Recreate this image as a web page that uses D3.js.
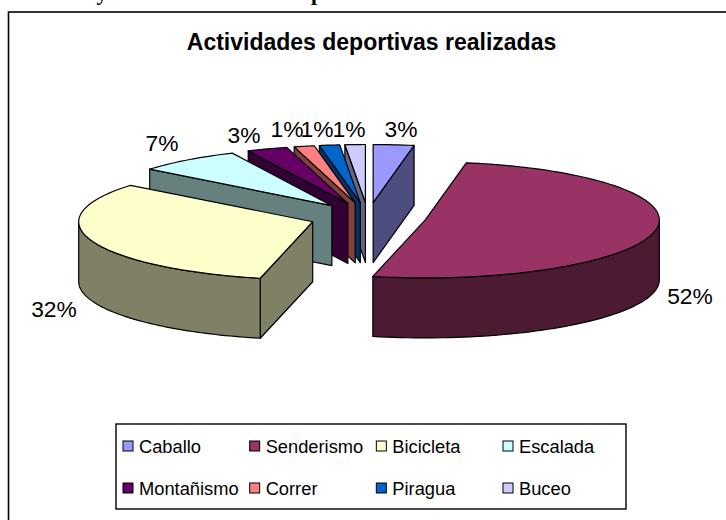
<!DOCTYPE html>
<html><head><meta charset="utf-8">
<script src="https://cdn.jsdelivr.net/npm/d3@7"></script>
<style>html,body{margin:0;padding:0;background:#fff}svg{display:block}text{font-family:"Liberation Sans",Arial,sans-serif}</style>
</head><body><svg id="c" width="726" height="520"></svg>
<script>
const categories = ["Caballo","Senderismo","Bicicleta","Escalada","Montañismo","Correr","Piragua","Buceo"];
const shares = [2.8,50.8,32.2,7.2,2.8,1.4,1.4,1.4];
const valueLabels = ["3%","52%","32%","7%","3%","1%","1%","1%"];
const topColors = ["#9999FF","#993366","#FFFFCC","#CCFFFF","#660066","#FF8080","#0066CC","#CCCCFF"];
const wallColors = ["#4D4D80","#4D1A33","#808066","#668080","#330033","#804040","#003366","#666680"];
const labelPos = [[401,137],[690,304],[54,317],[162,151],[244,143],[287,137],[317,137],[349,137]];
const legendOrder = [0,1,2,3,4,5,6,7];
const clippedHeading = [["y",102],["p",317]];

const svg = d3.select("#c");
const sx = d3.scaleLinear().domain([-1,1]).range([368-234,368+234]);
const sy = d3.scaleLinear().domain([-1,1]).range([217-58,217+58]);
const depth = 60, explode = 0.25;
const arcs = d3.pie().sort(null).value(d=>d)(shares);
const line = d3.line();
const TAU = 2*Math.PI;
const pt = (a,r,o,dz=0)=>[sx(o[0]+r*Math.sin(a)), sy(o[1]-r*Math.cos(a))+dz];

svg.append("g").selectAll("text").data(clippedHeading).join("text")
  .attr("x",d=>d[1]).attr("y",0).attr("text-anchor","middle")
  .attr("font-size",22).attr("font-weight","bold").style("font-family","'Liberation Serif',serif").text(d=>d[0]);

svg.append("rect").attr("x",8.5).attr("y",12).attr("width",760).attr("height",560).attr("fill","none").attr("stroke","#000").attr("stroke-width",1.6);

svg.append("text").attr("x",371.5).attr("y",50).attr("text-anchor","middle").attr("font-weight","bold").attr("font-size",23).text("Actividades deportivas realizadas");

const order = [7,6,5,4,3,2,0,1];
const g = svg.append("g").attr("stroke","#000").attr("stroke-width",1.2).attr("stroke-linejoin","round");
order.forEach(i=>{
  const d = arcs[i];
  const mid = (d.startAngle+d.endAngle)/2;
  const origin = [explode*Math.sin(mid), -explode*Math.cos(mid)];
  const c = pt(0,0,origin);
  const edge = i===0 ? d.endAngle : d.startAngle;
  if (i!==1) {
    const e = pt(edge,1,origin);
    g.append("path").attr("fill",wallColors[i])
      .attr("d", line([c,e,[e[0],e[1]+depth],[c[0],c[1]+depth]])+"Z");
  }
  const a0 = Math.max(d.startAngle,Math.PI/2), a1 = Math.min(d.endAngle,1.5*Math.PI);
  if (a1>a0) {
    const arcAngles = d3.range(0,61).map(k=>a0+(a1-a0)*k/60);
    const upper = arcAngles.map(a=>pt(a,1,origin));
    const lower = arcAngles.slice().reverse().map(a=>pt(a,1,origin,depth));
    g.append("path").attr("fill",wallColors[i]).attr("d",line(upper.concat(lower))+"Z");
  }
  const n = Math.max(8,Math.round((d.endAngle-d.startAngle)/TAU*240));
  const top = [c].concat(d3.range(0,n+1).map(k=>pt(d.startAngle+(d.endAngle-d.startAngle)*k/n,1,origin)));
  g.append("path").attr("fill",topColors[i]).attr("d",line(top)+"Z");
});

svg.append("g").attr("font-size",22.8).attr("fill","#000").selectAll("text").data(valueLabels).join("text")
  .attr("x",(d,i)=>labelPos[i][0]).attr("y",(d,i)=>labelPos[i][1]).attr("text-anchor","middle").text(d=>d);

svg.append("rect").attr("x",116).attr("y",424).attr("width",510).attr("height",85).attr("fill","#fff").attr("stroke","#000").attr("stroke-width",1.4);
const colX = d3.scalePoint().domain([0,1,2,3]).range([123,503]);
const rowY = d3.scalePoint().domain([0,1]).range([446,488]);
const lg = svg.append("g").selectAll("g").data(legendOrder).join("g")
  .attr("transform",i=>`translate(${colX(i%4)},${rowY(Math.floor(i/4))})`);
lg.append("rect").attr("x",0).attr("y",-5).attr("width",10).attr("height",10).attr("fill",i=>topColors[i]).attr("stroke","#000").attr("stroke-width",1);
lg.append("text").attr("x",16).attr("y",7).attr("font-size",18.3).text(i=>categories[i]);
</script></body></html>
